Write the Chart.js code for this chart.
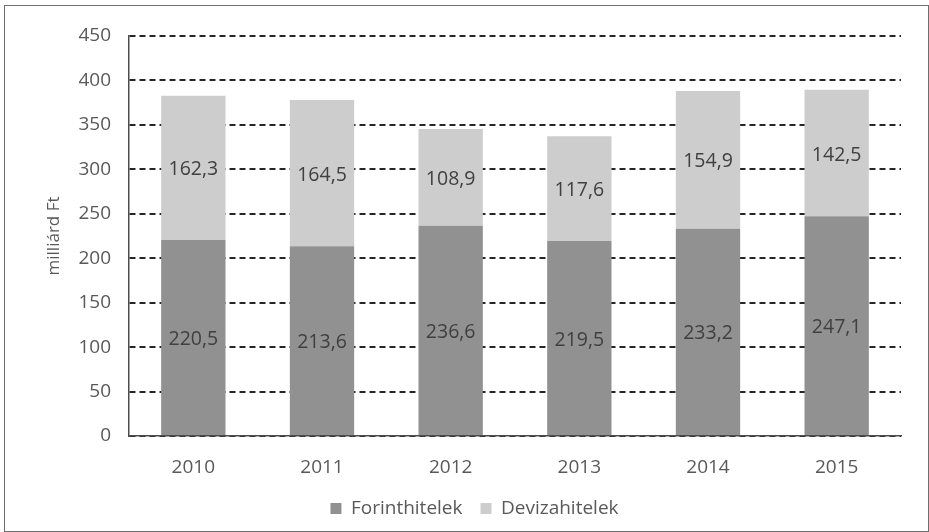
<!DOCTYPE html>
<html>
<head>
<meta charset="utf-8">
<script src="https://cdn.jsdelivr.net/npm/chart.js@4/dist/chart.umd.min.js"></script>
<style>
  html, body { margin: 0; padding: 0; background: #fff; }
  #wrap { position: relative; width: 929px; height: 532px; }
  #frame {
    position: absolute; left: 4px; top: 5px; width: 923px; height: 525px;
    border: 1px solid #6e6e6e; pointer-events: none;
  }
</style>
</head>
<body>
<div id="wrap">
  <canvas id="hitelek" width="929" height="532"></canvas>
  <div id="frame"></div>
</div>
<script>
const years = ['2010', '2011', '2012', '2013', '2014', '2015'];
const forint = [220.5, 213.6, 236.6, 219.5, 233.2, 247.1];
const deviza = [162.3, 164.5, 108.9, 117.6, 154.9, 142.5];
const yTicks = [0, 50, 100, 150, 200, 250, 300, 350, 400, 450];

const FONT = '"Open Sans", "Liberation Sans", sans-serif';

// value labels in the middle of each bar segment, Hungarian decimal comma
const segmentLabels = {
  id: 'segmentLabels',
  afterDatasetsDraw(chart) {
    const ctx = chart.ctx;
    ctx.save();
    ctx.font = '19.5px ' + FONT;
    ctx.fillStyle = '#404040';
    ctx.textAlign = 'center';
    ctx.textBaseline = 'middle';
    chart.data.datasets.forEach((ds, i) => {
      chart.getDatasetMeta(i).data.forEach((bar, j) => {
        const p = bar.getCenterPoint();
        ctx.fillText(ds.data[j].toFixed(1).replace('.', ','), p.x, p.y + 2);
      });
    });
    ctx.restore();
  }
};

// legend sits a little right of the canvas centre
const legendShift = {
  id: 'legendShift',
  afterLayout(chart) {
    chart.legend.left += 22;
    chart.legend.right += 22;
  }
};

const ctx = document.getElementById('hitelek');
new Chart(ctx, {
  type: 'bar',
  data: {
    labels: years,
    datasets: [
      { label: 'Forinthitelek', data: forint, backgroundColor: '#919191', borderWidth: 0 },
      { label: 'Devizahitelek', data: deviza, backgroundColor: '#cdcdcd', borderWidth: 0 }
    ]
  },
  options: {
    responsive: false,
    animation: false,
    layout: { padding: { left: 4, right: 28, top: 36, bottom: 4 } },
    datasets: { bar: { barPercentage: 0.5, categoryPercentage: 1 } },
    plugins: {
      tooltip: { enabled: false },
      legend: {
        position: 'bottom',
        maxHeight: 48,
        labels: {
          boxWidth: 11, boxHeight: 11, padding: 18,
          color: '#595959', font: { family: FONT, size: 19 }
        }
      }
    },
    scales: {
      x: {
        stacked: true,
        grid: { display: false },
        border: { display: true, color: '#4d4d4d', width: 1.5 },
        ticks: { color: '#595959', padding: 12, font: { family: FONT, size: 19 } },
        afterFit(scale) { scale.height = 45; }
      },
      y: {
        stacked: true,
        min: 0, max: 450,
        afterBuildTicks(scale) { scale.ticks = yTicks.map(v => ({ value: v })); },
        grid: { color: '#262626', lineWidth: 2, drawTicks: false },
        border: { display: true, color: '#4d4d4d', width: 1.5, dash: [6, 4] },
        ticks: { color: '#595959', padding: 18, font: { family: FONT, size: 19 } },
        title: {
          display: true, text: 'milliárd Ft', color: '#595959',
          font: { family: FONT, size: 17 }, padding: { top: 40, bottom: 0 }
        },
        afterFit(scale) { scale.width = 125; }
      }
    }
  },
  plugins: [segmentLabels, legendShift]
});
</script>
</body>
</html>
